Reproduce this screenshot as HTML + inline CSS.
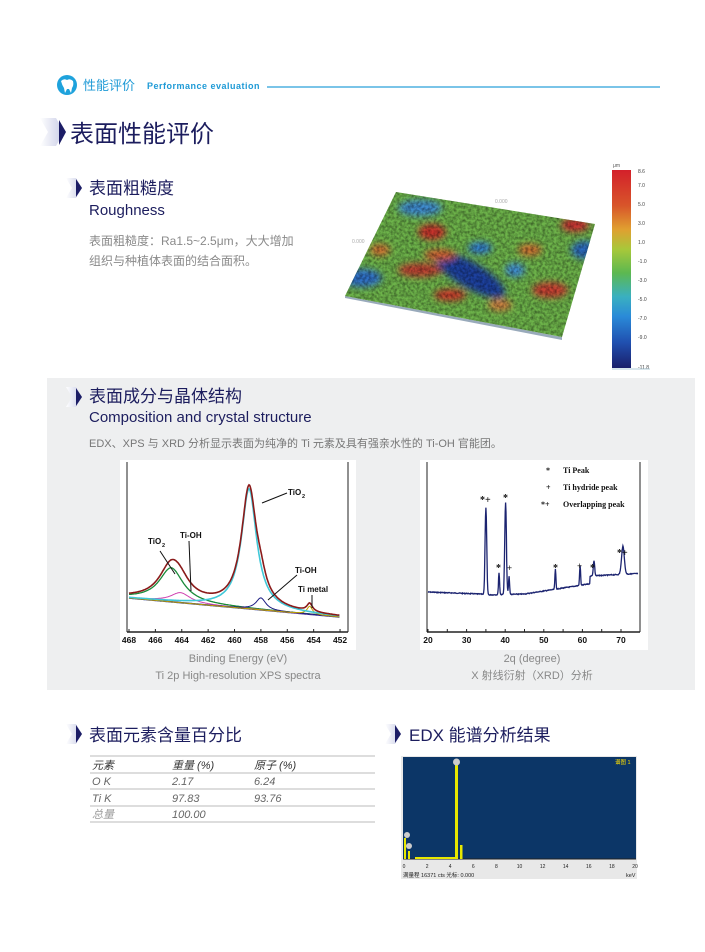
<!DOCTYPE html>
<html><head><meta charset="utf-8">
<style>
html,body{margin:0;padding:0;background:#fff}
svg{display:block}
.cn{font-family:"Liberation Sans","Noto Sans CJK SC",sans-serif}
</style></head><body>
<svg id="s" width="705" height="952" viewBox="0 0 705 952" xmlns="http://www.w3.org/2000/svg" class="cn">
<defs>
<linearGradient id="chev" x1="0" x2="1"><stop offset="0" stop-color="#fff"/><stop offset="1" stop-color="#c8cce6"/></linearGradient>
<linearGradient id="cbar" x1="0" y1="0" x2="0" y2="1">
<stop offset="0" stop-color="#d3202a"/><stop offset="0.18" stop-color="#d8552a"/><stop offset="0.3" stop-color="#e0a030"/><stop offset="0.4" stop-color="#a8c83a"/><stop offset="0.52" stop-color="#5cb850"/><stop offset="0.64" stop-color="#3ab0c0"/><stop offset="0.74" stop-color="#2a8ad8"/><stop offset="0.87" stop-color="#2050b0"/><stop offset="1" stop-color="#1a1f6a"/></linearGradient>
<filter id="bl" x="-50%" y="-50%" width="200%" height="200%"><feGaussianBlur stdDeviation="3.5"/></filter>
<filter id="tx" x="0" y="0" width="100%" height="100%"><feTurbulence type="fractalNoise" baseFrequency="0.35" numOctaves="2" seed="3"/><feColorMatrix type="matrix" values="0 0 0 0 0  0 0 0 0 0  0 0 0 0 0  0 0 0 0.8 -0.25"/></filter>
<clipPath id="surf"><polygon points="345,296 396,192 595,224 562,337"/></clipPath>
</defs>

<circle cx="67" cy="85" r="10" fill="#1ea2dc"/>
<path d="M61,81 q3,-3 6,-1 q3,-2 6,1 q1,4 -1,7 l-1,5 l-2,-4 l-2,0 l-2,4 l-1,-5 q-2,-3 -3,-7z" fill="#fff"/>
<text x="83" y="90" font-size="13" fill="#1e9ad6">性能评价</text>
<text x="147" y="89" font-size="9" font-weight="bold" fill="#1e9ad6" letter-spacing="0.5">Performance evaluation</text>
<line x1="267" y1="87" x2="660" y2="87" stroke="#2aa0da" stroke-width="1.2"/>

<polygon points="40,118 56,118 64,132 56,146 40,146 48,132" fill="url(#chev)"/>
<polygon points="59,120 66,132 59,145" fill="#1c1d66"/>
<text x="70" y="142" font-size="24" fill="#1c1d5e">表面性能评价</text>

<polygon points="66,178 76,178 82,188 76,198 66,198 72,188" fill="url(#chev)"/>
<polygon points="76,179 82,188 76,197" fill="#1c1d66"/>
<text x="89" y="194" font-size="17" fill="#1c1d5e">表面粗糙度</text>
<text x="89" y="215" font-size="15" fill="#1c1d5e">Roughness</text>
<text x="89" y="245" font-size="12" fill="#8a8a8a">表面粗糙度：Ra1.5~2.5μm，大大增加</text>
<text x="89" y="265" font-size="12" fill="#8a8a8a">组织与种植体表面的结合面积。</text>

<polygon points="345,298 562,340 562,337 345,296" fill="#9ab"/>
<g clip-path="url(#surf)">
<rect x="340" y="185" width="260" height="160" fill="#6db34a"/>
<g filter="url(#bl)">
<ellipse cx="470" cy="275" rx="40" ry="13" transform="rotate(30 470 275)" fill="#1f3f9e"/>
<ellipse cx="420" cy="208" rx="22" ry="8" fill="#3c8ad0"/>
<ellipse cx="362" cy="278" rx="20" ry="9" fill="#2f6fc8"/>
<ellipse cx="480" cy="248" rx="12" ry="6" fill="#2f7ad0"/>
<ellipse cx="515" cy="270" rx="10" ry="7" fill="#3c8ad0"/>
<ellipse cx="585" cy="250" rx="14" ry="9" fill="#2a6ac0"/>
<ellipse cx="432" cy="232" rx="14" ry="8" fill="#c8302a"/>
<ellipse cx="420" cy="270" rx="22" ry="7" fill="#c04030"/>
<ellipse cx="450" cy="295" rx="16" ry="6" fill="#c8382a"/>
<ellipse cx="440" cy="255" rx="16" ry="6" fill="#d06030"/>
<ellipse cx="575" cy="225" rx="14" ry="7" fill="#c83030"/>
<ellipse cx="550" cy="290" rx="18" ry="8" fill="#c84030"/>
<ellipse cx="530" cy="250" rx="12" ry="6" fill="#d07030"/>
<ellipse cx="500" cy="305" rx="12" ry="6" fill="#d08040"/>
<ellipse cx="380" cy="250" rx="10" ry="6" fill="#d07030"/>
</g>
<rect x="340" y="185" width="260" height="160" filter="url(#tx)"/>
</g>
<text x="352" y="243" font-size="5" fill="#aaa">0.000</text>
<text x="495" y="203" font-size="5" fill="#aaa">0.000</text>

<text x="613" y="167" font-size="5" fill="#555">μm</text>
<rect x="612" y="170" width="19" height="198" fill="url(#cbar)"/>
<g font-size="5" fill="#444">
<text x="638" y="173">8.6</text><text x="638" y="187">7.0</text><text x="638" y="206">5.0</text><text x="638" y="225">3.0</text><text x="638" y="244">1.0</text><text x="638" y="263">-1.0</text><text x="638" y="282">-3.0</text><text x="638" y="301">-5.0</text><text x="638" y="320">-7.0</text><text x="638" y="339">-9.0</text><text x="638" y="369">-11.8</text>
</g>
<line x1="612" y1="369" x2="650" y2="369" stroke="#9bc" stroke-width="0.8"/>

<rect x="47" y="378" width="648" height="312" fill="#eeeff0"/>
<polygon points="66,387 76,387 82,397 76,407 66,407 72,397" fill="url(#chev)"/>
<polygon points="76,388 82,397 76,406" fill="#1c1d66"/>
<text x="89" y="402" font-size="17" fill="#1c1d5e">表面成分与晶体结构</text>
<text x="89" y="422" font-size="15" fill="#1c1d5e">Composition and crystal structure</text>
<text x="89" y="447" font-size="11" fill="#777">EDX、XPS 与 XRD 分析显示表面为纯净的 Ti 元素及具有强亲水性的 Ti-OH 官能团。</text>

<rect x="120" y="460" width="236" height="190" fill="#fff"/>
<line x1="127" y1="462" x2="127" y2="632" stroke="#222" stroke-width="1"/>
<line x1="348" y1="462" x2="348" y2="632" stroke="#222" stroke-width="1"/>
<line x1="127" y1="632" x2="348" y2="632" stroke="#222" stroke-width="1.5"/>
<g id="xpsTicks" font-size="8.5" font-weight="bold" fill="#111" text-anchor="middle"></g>
<g id="xps"></g>
<g font-size="8" font-weight="bold" fill="#111">
<text x="288" y="495">TiO</text><text x="302" y="498" font-size="5.5">2</text>
<text x="148" y="544">TiO</text><text x="162" y="547" font-size="5.5">2</text>
<text x="180" y="538">Ti-OH</text>
<text x="295" y="573">Ti-OH</text>
<text x="298" y="592">Ti metal</text>
</g>
<g stroke="#111" stroke-width="1" fill="none">
<line x1="287" y1="493" x2="262" y2="503"/>
<line x1="160" y1="551" x2="175" y2="574"/>
<line x1="189" y1="541" x2="191" y2="591"/>
<line x1="297" y1="575" x2="268" y2="600"/>
<line x1="312" y1="595" x2="312" y2="608"/>
</g>
<text x="238" y="662" font-size="11" fill="#888" text-anchor="middle">Binding Energy (eV)</text>
<text x="238" y="679" font-size="11" fill="#888" text-anchor="middle">Ti 2p High-resolution XPS spectra</text>

<rect x="420" y="460" width="228" height="190" fill="#fff"/>
<line x1="427" y1="462" x2="427" y2="632" stroke="#222" stroke-width="1"/>
<line x1="640" y1="462" x2="640" y2="632" stroke="#222" stroke-width="1"/>
<line x1="427" y1="632" x2="640" y2="632" stroke="#222" stroke-width="1.5"/>
<g id="xrdTicks" font-size="8.5" font-weight="bold" fill="#111" text-anchor="middle"></g>
<path id="xrd" fill="none" stroke="#1c2470" stroke-width="1.3"/>
<g font-family="Liberation Serif,serif" font-size="8" font-weight="bold" fill="#111">
<text x="546" y="473">*</text><text x="563" y="473">Ti Peak</text>
<text x="546" y="490">+</text><text x="563" y="490">Ti hydride peak</text>
<text x="541" y="507">*+</text><text x="563" y="507">Overlapping peak</text>
<text x="480" y="503" font-size="10">*+</text>
<text x="503" y="501" font-size="10">*</text>
<text x="496" y="571" font-size="10">*</text>
<text x="507" y="571" font-size="9">+</text>
<text x="553" y="571" font-size="10">*</text>
<text x="577" y="569" font-size="9">+</text>
<text x="590" y="571" font-size="10">*</text>
<text x="617" y="556" font-size="10">*+</text>
</g>
<text x="532" y="662" font-size="11" fill="#888" text-anchor="middle">2q (degree)</text>
<text x="532" y="679" font-size="11" fill="#888" text-anchor="middle">X 射线衍射（XRD）分析</text>

<polygon points="66,724 76,724 82,734 76,744 66,744 72,734" fill="url(#chev)"/>
<polygon points="76,725 82,734 76,743" fill="#1c1d66"/>
<text x="89" y="741" font-size="17" fill="#1c1d5e">表面元素含量百分比</text>
<g stroke="#bbb" stroke-width="1">
<line x1="90" y1="756" x2="375" y2="756"/><line x1="90" y1="773" x2="375" y2="773"/>
<line x1="90" y1="789" x2="375" y2="789"/><line x1="90" y1="806" x2="375" y2="806"/>
<line x1="90" y1="822" x2="375" y2="822"/>
</g>
<g font-size="11" font-style="italic">
<text x="92" y="769" fill="#333">元素</text><text x="172" y="769" fill="#333">重量 (%)</text><text x="254" y="769" fill="#333">原子 (%)</text>
<text x="92" y="785" fill="#666">O K</text><text x="172" y="785" fill="#666">2.17</text><text x="254" y="785" fill="#666">6.24</text>
<text x="92" y="802" fill="#666">Ti K</text><text x="172" y="802" fill="#666">97.83</text><text x="254" y="802" fill="#666">93.76</text>
<text x="92" y="818" fill="#999">总量</text><text x="172" y="818" fill="#666">100.00</text>
</g>

<polygon points="385,724 395,724 401,734 395,744 385,744 391,734" fill="url(#chev)"/>
<polygon points="395,725 401,734 395,743" fill="#1c1d66"/>
<text x="409" y="741" font-size="17" fill="#1c1d5e">EDX 能谱分析结果</text>
<rect x="401" y="756" width="236" height="123" fill="#e8e8e8"/>
<rect x="403" y="757" width="233" height="102" fill="#0c3667"/>
<line x1="403" y1="859" x2="636" y2="859" stroke="#222"/>
<text x="615" y="764" font-size="5.5" fill="#ffe000">谱图 1</text>
<g fill="#e8e800">
<rect x="455" y="764" width="3" height="95"/>
<rect x="460" y="845" width="2.5" height="14"/>
<rect x="404" y="838" width="2" height="21"/>
<rect x="408" y="851" width="2" height="8"/>
<rect x="415" y="857" width="40" height="2"/>
</g>
<circle cx="456.5" cy="762" r="3.5" fill="#ccc"/>
<circle cx="407" cy="835" r="3" fill="#ccc"/>
<circle cx="409" cy="846" r="3" fill="#ccc"/>
<g font-size="5" fill="#222" text-anchor="middle" id="edxTicks"></g>
<text x="403" y="877" font-size="5.5" fill="#222">满量程 16371 cts 光标: 0.000</text>
<text x="626" y="877" font-size="5.5" fill="#222">keV</text>
</svg>
<script>
var NS="http://www.w3.org/2000/svg";
function el(t,a,p){var e=document.createElementNS(NS,t);for(var k in a)e.setAttribute(k,a[k]);p.appendChild(e);return e;}
var xt=document.getElementById('xpsTicks');
for(var E=468;E>=452;E-=2){var x=129+(468-E)*13.19;var t=el('text',{x:x,y:643},xt);t.textContent=E;
 el('line',{x1:x,y1:632,x2:x,y2:629,stroke:'#222'},document.getElementById('s'));}
function L(E,c,w,h){var d=(E-c)/w;return h/(1+d*d);}
function X(E){return 129+(468-E)*13.19;}
function B(E){return 598+(468-E)/16*19;}
var comps={tio2a:[458.9,0.7,120],tio2b:[464.8,1.1,34],oha:[464.1,0.9,10],ohb:[458.0,0.45,12],met:[454.3,0.25,8]};
function path(f){var d='';for(var E=468;E>=452;E-=0.05){d+=(d?'L':'M')+X(E).toFixed(1)+','+(B(E)-f(E)).toFixed(1);}return d;}
var g=document.getElementById('xps');
el('path',{d:path(function(E){return 0}),stroke:'#1c2a8a','stroke-width':1.6,fill:'none'},g);
el('path',{d:path(function(E){return L(E,comps.tio2b[0],comps.tio2b[1],comps.tio2b[2])}),stroke:'#1a8a3a','stroke-width':1.3,fill:'none'},g);
el('path',{d:path(function(E){return L(E,comps.oha[0],comps.oha[1],comps.oha[2])}),stroke:'#d040b0','stroke-width':1,fill:'none'},g);
el('path',{d:path(function(E){return L(E,comps.ohb[0],comps.ohb[1],comps.ohb[2])}),stroke:'#1a1a80','stroke-width':1,fill:'none'},g);
el('path',{d:path(function(E){return L(E,comps.met[0],comps.met[1],comps.met[2])}),stroke:'#c0a000','stroke-width':1,fill:'none'},g);
el('path',{d:path(function(E){return L(E,comps.tio2a[0],comps.tio2a[1],comps.tio2a[2])}),stroke:'#40c8d8','stroke-width':1.6,fill:'none'},g);
el('path',{d:path(function(E){var s=0;for(var k in comps){var c=comps[k];s+=L(E,c[0],c[1],c[2]);}return s;}),stroke:'#8a1a1a','stroke-width':1.6,fill:'none'},g);
var rt=document.getElementById('xrdTicks');
for(var v=20;v<=70;v+=10){var x=428+(v-20)*3.86;var t=el('text',{x:x,y:643},rt);t.textContent=v;}
for(var v=20;v<=74;v+=5){var x=428+(v-20)*3.86;el('line',{x1:x,y1:632,x2:x,y2:629,stroke:'#222'},document.getElementById('s'));}
var pk=[[35,0.3,87],[38.4,0.2,22],[40.1,0.3,92],[41,0.2,18],[53,0.18,20],[59.4,0.18,20],[63,0.25,15],[70.5,0.5,28]];
var d='',seed=7;function rnd(){seed=(seed*9301+49297)%233280;return seed/233280;}
for(var a=20;a<=74.5;a+=0.1){var x=428+(a-20)*3.86;
 var base=a<35?592+(a-20)*0.15:(a<45?595-(a-35)*0.1:594-(a-45)*0.6);
 if(a>62)base=576-(a-62)*0.2;
 var s=0;for(var i=0;i<pk.length;i++){var q=(a-pk[i][0])/pk[i][1];s+=pk[i][2]*Math.exp(-q*q);}
 var y=base-s+(rnd()-0.5)*0.8;d+=(d?'L':'M')+x.toFixed(1)+','+y.toFixed(1);}
document.getElementById('xrd').setAttribute('d',d);
var et=document.getElementById('edxTicks');
for(var k=0;k<=20;k+=2){var x=404+k*11.55;var t=el('text',{x:x,y:868},et);t.textContent=k;}
</script>
</body></html>
